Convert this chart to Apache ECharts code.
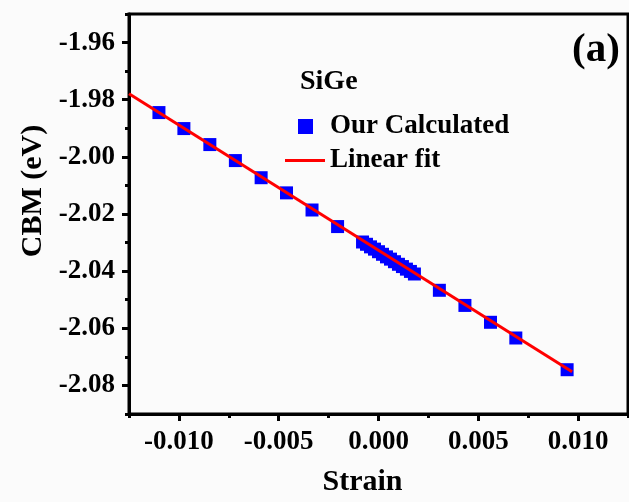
<!DOCTYPE html>
<html>
<head>
<meta charset="utf-8">
<script src="https://cdn.jsdelivr.net/npm/echarts@6/dist/echarts.min.js"></script>
<style>
html,body{margin:0;padding:0;background:#fbfbfb;overflow:hidden;}
#chart{width:629px;height:502px;}
</style>
</head>
<body>
<div id="chart"></div>
<script>
// Data
var strainCalc = [-0.0110, -0.00975, -0.00845, -0.00717, -0.00588, -0.00461, -0.00333, -0.00205,
  -0.0008, -0.0006, -0.0004, -0.0002, 0.0000, 0.0002, 0.0004, 0.0006, 0.0008, 0.0010, 0.0012, 0.0014, 0.0016, 0.0018,
  0.00305, 0.00433, 0.00561, 0.00688, 0.00945];
var cbmCalc = [-1.9845, -1.9901, -1.9957, -2.0013, -2.0073, -2.0126, -2.0186, -2.0244,
  -2.0298, -2.0306, -2.0315, -2.0323, -2.0332, -2.0341, -2.0350, -2.0358, -2.0367, -2.0376, -2.0384, -2.0393, -2.0401, -2.0410,
  -2.0467, -2.0520, -2.0579, -2.0634, -2.0745];
var fitStrain = [-0.0125, 0.0097];
var fitCbm = [-1.9779, -2.0752];
var xTicks = [-0.010, -0.005, 0.000, 0.005, 0.010];
var xMinorTicks = [-0.0125, -0.0075, -0.0025, 0.0025, 0.0075, 0.0125];
var yTicks = [-2.08, -2.06, -2.04, -2.02, -2.00, -1.98, -1.96];
var yMinorTicks = [-2.09, -2.07, -2.05, -2.03, -2.01, -1.99, -1.97, -1.95];

var FONT = '"Liberation Serif", "Times New Roman", serif';
var chart = echarts.init(document.getElementById('chart'), null, { width: 629, height: 502 });

function zip(a, b) { return a.map(function (v, i) { return [v, b[i]]; }); }

var option = {
  backgroundColor: '#fbfbfb',
  animation: false,
  grid: { left: 129, top: 14, width: 499, height: 409, show: true, borderColor: '#000', borderWidth: 3, backgroundColor: 'transparent' },
  title: [
    { text: 'SiGe', left: 300, top: 68, padding: 0, textStyle: { fontFamily: FONT, fontWeight: 'bold', fontSize: 28, color: '#000' } },
    { text: '(a)', left: 572, top: 30, padding: 0, textStyle: { fontFamily: FONT, fontWeight: 'bold', fontSize: 41, color: '#000' } }
  ],
  legend: [
    { data: [{ name: 'Our Calculated', icon: 'rect' }], left: 298, top: 113, padding: 0, itemWidth: 15, itemHeight: 15,
      textStyle: { fontFamily: FONT, fontWeight: 'bold', fontSize: 27, color: '#000', padding: [0, 0, 0, 12] } },
    { data: [{ name: 'Linear fit', icon: 'rect' }], left: 285, top: 147, padding: 0, itemWidth: 40, itemHeight: 3,
      textStyle: { fontFamily: FONT, fontWeight: 'bold', fontSize: 27, color: '#000' } }
  ],
  xAxis: [
    { type: 'value', min: -0.0125, max: 0.0125, position: 'bottom',
      name: 'Strain', nameLocation: 'middle', nameGap: 53,
      nameTextStyle: { fontFamily: FONT, fontWeight: 'bold', fontSize: 30, color: '#000', padding: [0, 32, 0, 0] },
      axisLine: { show: true, onZero: false, lineStyle: { color: '#000', width: 3 } },
      axisTick: { show: true, inside: false, length: 7, lineStyle: { color: '#000', width: 3 }, customValues: xTicks },
      axisLabel: { show: true, margin: 15, customValues: xTicks, fontFamily: FONT, fontWeight: 'bold', fontSize: 27, color: '#000',
        formatter: function (v) { return v.toFixed(3); } },
      splitLine: { show: false } },
    { type: 'value', min: -0.0125, max: 0.0125, position: 'bottom',
      axisLine: { show: false, onZero: false },
      axisTick: { show: true, inside: false, length: 4, lineStyle: { color: '#000', width: 3 }, customValues: xMinorTicks },
      axisLabel: { show: false },
      splitLine: { show: false } }
  ],
  yAxis: [
    { type: 'value', min: -2.09, max: -1.95, position: 'left',
      name: 'CBM (eV)', nameLocation: 'middle', nameGap: 76,
      nameTextStyle: { fontFamily: FONT, fontWeight: 'bold', fontSize: 30, color: '#000', padding: [0, 0, 0, 46] },
      axisLine: { show: true, onZero: false, lineStyle: { color: '#000', width: 3 } },
      axisTick: { show: true, inside: false, length: 7, lineStyle: { color: '#000', width: 3 }, customValues: yTicks },
      axisLabel: { show: true, margin: 14, customValues: yTicks, fontFamily: FONT, fontWeight: 'bold', fontSize: 27, color: '#000',
        formatter: function (v) { return v.toFixed(2); } },
      splitLine: { show: false } },
    { type: 'value', min: -2.09, max: -1.95, position: 'left', offset: 0,
      axisLine: { show: false, onZero: false },
      axisTick: { show: true, inside: false, length: 4, lineStyle: { color: '#000', width: 3 }, customValues: yMinorTicks },
      axisLabel: { show: false },
      splitLine: { show: false } }
  ],
  series: [
    { name: 'Our Calculated', type: 'scatter', xAxisIndex: 0, yAxisIndex: 0,
      data: zip(strainCalc, cbmCalc), symbol: 'rect', symbolSize: 13,
      itemStyle: { color: '#0000ff', opacity: 1 }, z: 2 },
    { name: 'Linear fit', type: 'line', xAxisIndex: 0, yAxisIndex: 0,
      data: zip(fitStrain, fitCbm), symbol: 'none', showSymbol: false,
      lineStyle: { color: '#ff0000', width: 3 }, itemStyle: { color: '#ff0000' }, z: 3 }
  ]
};
chart.setOption(option);
</script>
</body>
</html>
